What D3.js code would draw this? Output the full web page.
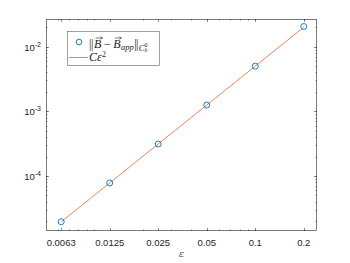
<!DOCTYPE html>
<html><head><meta charset="utf-8">
<script src="https://cdn.jsdelivr.net/npm/d3@7"></script>
<style>body{margin:0;background:#fff}svg{display:block}</style>
</head><body>
<script>
const epsValues = [0.00625, 0.0125, 0.025, 0.05, 0.1, 0.2];
const errValues = [1.96e-5, 7.8e-5, 3.12e-4, 1.25e-3, 5.0e-3, 2.05e-2];
const fitC = 0.5;
const xTickValues = [0.00625, 0.0125, 0.025, 0.05, 0.1, 0.2];
const xTickLabels = ["0.0063", "0.0125", "0.025", "0.05", "0.1", "0.2"];
const yTickExps = [-4, -3, -2];

const W = 350, H = 263;
const L = 46, R = 317, T = 19, B = 231;
const svg = d3.select("body").append("svg").attr("width", W).attr("height", H);
const x = d3.scaleLog().domain([0.00503, 0.2417]).range([L, R]);
const y = d3.scaleLog().domain([1.41e-5, 0.0268]).range([B, T]);
const axisCol = "#262626";
const font = "'Liberation Sans', Arial, sans-serif";

svg.append("rect").attr("x", L).attr("y", T).attr("width", R - L).attr("height", B - T).attr("fill", "#fff");

// minor ticks
const xMinor = [];
for (let e = -3; e <= -1; e++) for (let m = 1; m <= 9; m++) { const v = m * Math.pow(10, e); if (v > x.domain()[0] && v < x.domain()[1]) xMinor.push(v); }
const yMinor = [];
for (let e = -5; e <= -2; e++) for (let m = 1; m <= 9; m++) { const v = m * Math.pow(10, e); if (v > y.domain()[0] && v < y.domain()[1]) yMinor.push(v); }
const g = svg.append("g").attr("stroke", axisCol).attr("stroke-width", 0.5);
xMinor.forEach(v => { const px = Math.round(x(v)) + 0.5;
  g.append("line").attr("x1", px).attr("x2", px).attr("y1", B).attr("y2", B - 1.5);
  g.append("line").attr("x1", px).attr("x2", px).attr("y1", T).attr("y2", T + 1.5); });
yMinor.forEach(v => { const py = Math.round(y(v)) + 0.5;
  g.append("line").attr("y1", py).attr("y2", py).attr("x1", L).attr("x2", L + 1.5);
  g.append("line").attr("y1", py).attr("y2", py).attr("x1", R).attr("x2", R - 1.5); });
xTickValues.forEach(v => { const px = Math.round(x(v)) + 0.5;
  g.append("line").attr("x1", px).attr("x2", px).attr("y1", B).attr("y2", B - 3);
  g.append("line").attr("x1", px).attr("x2", px).attr("y1", T).attr("y2", T + 3); });
yTickExps.forEach(e => { const py = Math.round(y(Math.pow(10, e))) + 0.5;
  g.append("line").attr("y1", py).attr("y2", py).attr("x1", L).attr("x2", L + 3);
  g.append("line").attr("y1", py).attr("y2", py).attr("x1", R).attr("x2", R - 3); });

svg.append("rect").attr("x", L + 0.5).attr("y", T + 0.5).attr("width", R - L - 1).attr("height", B - T - 1)
  .attr("fill", "none").attr("stroke", axisCol).attr("stroke-width", 0.6);

// tick labels
xTickValues.forEach((v, i) => {
  svg.append("text").attr("x", x(v)).attr("y", 246).attr("text-anchor", "middle")
    .attr("font-family", font).attr("font-size", 9.5).attr("fill", axisCol).text(xTickLabels[i]);
});
yTickExps.forEach(e => {
  const t = svg.append("text").attr("x", 41).attr("y", y(Math.pow(10, e)) + 4).attr("text-anchor", "end")
    .attr("font-family", font).attr("font-size", 9.5).attr("fill", axisCol);
  t.append("tspan").text("10");
  t.append("tspan").attr("dy", -4).attr("font-size", 7).text(String(e));
});
svg.append("text").attr("x", (L + R) / 2).attr("y", 257).attr("text-anchor", "middle")
  .attr("font-family", "'DejaVu Serif', serif").attr("font-style", "italic").attr("font-size", 10).attr("fill", "#555").text("ε");

// fit line
const fit = epsValues.map(e => [e, fitC * e * e]);
svg.append("path").datum(fit).attr("fill", "none").attr("stroke", "#D95319").attr("stroke-width", 0.7)
  .attr("d", d3.line().x(d => x(d[0])).y(d => y(d[1])));
// points
svg.selectAll("circle.pt").data(epsValues).enter().append("circle").attr("class", "pt")
  .attr("cx", d => x(d)).attr("cy", (d, i) => y(errValues[i])).attr("r", 3)
  .attr("fill", "none").attr("stroke", "#0072BD").attr("stroke-width", 0.9);

// legend
const lg = svg.append("g");
lg.append("rect").attr("x", 67.5).attr("y", 31.5).attr("width", 92).attr("height", 34)
  .attr("fill", "#fff").attr("stroke", "#777").attr("stroke-width", 0.7);
lg.append("circle").attr("cx", 79).attr("cy", 42).attr("r", 2.8).attr("fill", "none").attr("stroke", "#0072BD").attr("stroke-width", 0.9);
lg.append("line").attr("x1", 69).attr("x2", 88).attr("y1", 57.5).attr("y2", 57.5).attr("stroke", "#D95319").attr("stroke-width", 0.7);
const sf = "'Liberation Serif', 'DejaVu Serif', serif";
function piece(xx, yy, str, opts) {
  const t = lg.append("text").attr("x", xx).attr("y", yy).attr("font-family", sf)
    .attr("font-size", opts.size || 12).attr("fill", "#222")
    .attr("font-style", opts.italic ? "italic" : "normal").text(str);
  return xx + t.node().getComputedTextLength() + (opts.gap || 0);
}
function arrow(x0, x1, yy) {
  lg.append("line").attr("x1", x0).attr("x2", x1).attr("y1", yy).attr("y2", yy).attr("stroke", "#222").attr("stroke-width", 0.6);
  lg.append("path").attr("d", `M${x1 - 2},${yy - 1.3}L${x1},${yy}L${x1 - 2},${yy + 1.3}`).attr("fill", "none").attr("stroke", "#222").attr("stroke-width", 0.6);
}
let cx = 89; const by = 47.5;
cx = piece(cx, by, "|", {gap: -0.5});
cx = piece(cx, by, "|", {gap: 0.8});
let b0 = cx; cx = piece(cx, by, "B", {italic: true, gap: 2.5}); arrow(b0 + 1.5, cx - 1.5, 38);
cx = piece(cx, by, "−", {gap: 2.5});
b0 = cx; cx = piece(cx, by, "B", {italic: true, gap: 0.3}); arrow(b0 + 1.5, cx + 0.5, 38);
cx = piece(cx, by + 2, "app", {italic: true, size: 8.5, gap: 0.5});
cx = piece(cx, by, "|", {gap: -0.5});
cx = piece(cx, by, "|", {gap: 0.3});
cx = piece(cx, by + 3, "C", {italic: true, size: 8.5, gap: 0});
piece(cx, by - 1, "0", {size: 6});
piece(cx, by + 4.5, "b", {italic: true, size: 5.5});
let c2 = piece(89, 61, "Cε", {italic: true});
piece(c2 + 0.3, 56.5, "2", {size: 8});
</script>
</body></html>
